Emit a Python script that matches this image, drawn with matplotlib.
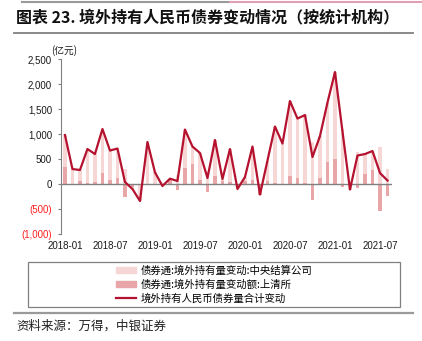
import matplotlib
matplotlib.use('Agg')
import matplotlib.pyplot as plt
from matplotlib.patches import Rectangle
from matplotlib.lines import Line2D
import numpy as np

plt.rcParams['font.family'] = ['Liberation Sans', 'Noto Sans CJK SC']

# monthly data 2018-01 .. 2021-08 (亿元)
total = [980, 300, 280, 700, 600, 1100, 670, 710, 40, -100, -340, 840,
         233, -40, 107, 60, 1090, 750, 620, 120, 880, 100, 700, -100,
         140, 750, -210, 470, 1150, 810, 1660, 1310, 1380, 540, 960, 1630,
         2240, 1050, -110, 570, 600, 660, 220, 70]
shch = [350, 10, 70, 30, 50, 230, 80, 130, -250, -50, 0, 0,
        5, -10, 80, -120, 330, 400, 90, -150, 170, 60, 50, -20,
        60, 80, -220, 60, 30, -10, 170, 120, 30, -310, 130, 440,
        510, -60, -10, -70, 200, 290, -530, -230]
ccdc = [630, 290, 210, 670, 550, 870, 590, 580, 300, -50, -340, 840,
        230, -30, 30, 180, 760, 350, 530, 270, 710, 40, 650, -80,
        80, 670, 10, 410, 1120, 820, 1490, 1190, 1350, 850, 830, 1190,
        1730, 1110, -100, 640, 400, 370, 750, 300]
xlabels = ['2018-01', '2018-07', '2019-01', '2019-07',
           '2020-01', '2020-07', '2021-01', '2021-07']
yticks = [-1000, -500, 0, 500, 1000, 1500, 2000, 2500]
ylabels = ['(1,000)', '(500)', '0', '500', '1,000', '1,500', '2,000', '2,500']

c_light = '#f7d6d6'
c_dark = '#e9a6a8'
c_line = '#b5122f'
cjk = ['Noto Sans CJK SC', 'DejaVu Sans']

x = np.arange(len(total))
shch = np.array(shch)
ccdc = np.array(ccdc)
bottom = np.where(np.sign(ccdc) == np.sign(shch), shch, 0)

fig = plt.figure(figsize=(4.22, 3.41), dpi=100)
ax = fig.add_axes([0.1445, 0.3138, 0.7844, 0.513])

ax.bar(x, shch, width=0.45, color=c_dark, zorder=2)
ax.bar(x, ccdc, width=0.45, bottom=bottom, color=c_light, zorder=2)
ax.axhline(0, color='#808080', lw=1, zorder=3)
ax.plot(x, total, color=c_line, lw=1.6, zorder=4)

ax.set_xlim(-0.53, 43.6)
ax.set_ylim(-1000, 2500)
ax.set_xticks(np.arange(0, 43, 6))
ax.set_xticklabels(xlabels, fontsize=7)
ax.set_yticks(yticks)
ax.set_yticklabels(ylabels, fontsize=7)
for lab in ax.get_yticklabels():
    if lab.get_text().startswith('('):
        lab.set_color('#ff2020')
    else:
        lab.set_color('#1a1a1a')
for lab in ax.get_xticklabels():
    lab.set_color('#1a1a1a')
ax.tick_params(axis='x', length=0, pad=5)
ax.tick_params(axis='y', length=2.5, pad=4, color='#808080')
for s in ['top', 'right', 'bottom']:
    ax.spines[s].set_visible(False)
ax.spines['left'].set_color('#808080')

fig.text(0.152, 0.853, '(亿元)', fontsize=7, family=cjk, style='italic',
         ha='center', va='center', color='#1a1a1a')

# title and decoration lines
fig.add_artist(Line2D([22/422, 230/422], [1-1.5/341]*2, color='#9a9a9a', lw=1.5))
fig.add_artist(Line2D([230/422, 1.0], [1-1.5/341]*2, color='#e0a0b4', lw=1.5))
fig.text(16/422, 1-17/341, '图表 23. 境外持有人民币债券变动情况（按统计机构）',
         fontsize=11.5, fontweight='bold', family=cjk, ha='left', va='center',
         color='#111111')
fig.add_artist(Line2D([14/422, 413/422], [1-33/341]*2, color='#808080', lw=1.3))
fig.add_artist(Line2D([14/422, 413/422], [1-313/341]*2, color='#9a9a9a', lw=1.6))
fig.text(16/422, 1-326/341, '资料来源：万得，中银证券', fontsize=9, family=cjk,
         style='italic', ha='left', va='center', color='#222222')

# legend
fig.add_artist(Rectangle((28/422, 1-307/341), 372/422, 45/341, transform=fig.transFigure,
                         fill=False, edgecolor='#808080', lw=0.9))
handles = [Rectangle((0, 0), 1, 1, color=c_light),
           Rectangle((0, 0), 1, 1, color=c_dark),
           Line2D([], [], color=c_line, lw=1.6)]
labels = ['债券通:境外持有量变动:中央结算公司',
          '债券通:境外持有量变动额:上清所',
          '境外持有人民币债券量合计变动']
fig.legend(handles, labels, loc='center', bbox_to_anchor=(214/422, 1-284.5/341),
           frameon=False, prop={'family': cjk, 'size': 7.5},
           handlelength=2.0, handleheight=0.6, handletextpad=0.4, labelspacing=0.35,
           borderpad=0)

fig.savefig('out.png', dpi=100)
